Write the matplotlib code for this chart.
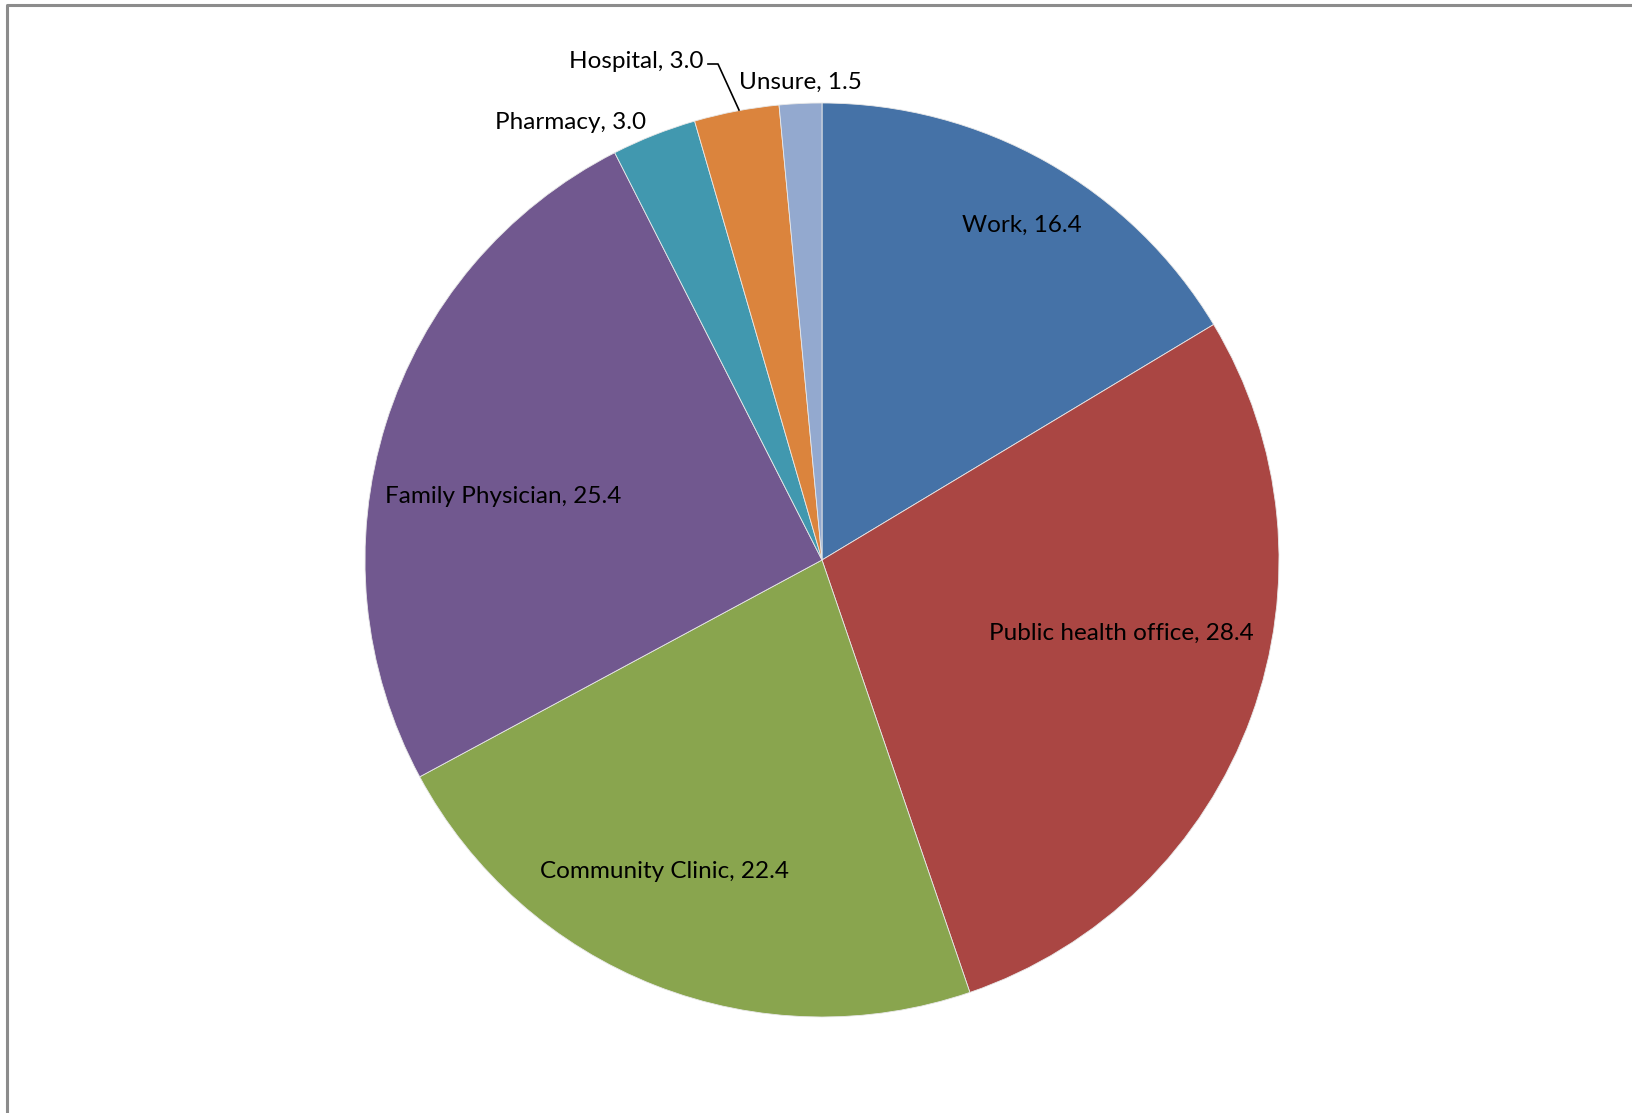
import numpy as np
import matplotlib.pyplot as plt

# Where people would go (percent of respondents)
categories = ['Work', 'Public health office', 'Community Clinic', 'Family Physician',
              'Pharmacy', 'Hospital', 'Unsure']
values = [16.4, 28.4, 22.4, 25.4, 3.0, 3.0, 1.5]
colours = ['#4572A7', '#AA4643', '#89A54E', '#71588F', '#4198AF', '#DB843D', '#93A9CF']

W, H = 1633, 1113
fig = plt.figure(figsize=(W/100, H/100), dpi=100)
ax = fig.add_axes([0, 0, 1, 1])

cx, cy, r = 822, H-560, 457
ax.pie(values, colors=colours, startangle=90, counterclock=False,
       center=(cx, cy), radius=r, frame=True,
       wedgeprops={'linewidth': 0.6, 'edgecolor': '#e8e8e8'})
ax.set_xlim(0, W)
ax.set_ylim(0, H)
ax.set_aspect('equal')
ax.axis('off')

# label anchors (x, y from top, alignment)
label_pos = [(1022, 225, 'center'), (1121, 633, 'center'), (665, 872, 'center'),
             (503, 497, 'center'), (646, 123, 'right'), (704, 61, 'right'),
             (739, 82, 'left')]
for name, v, (x, y, ha) in zip(categories, values, label_pos):
    ax.text(x, H-y, '{}, {:.1f}'.format(name, v), ha=ha, va='center',
            fontsize=17.5, family='Lato', color='black')

# leader line for the Hospital label
ax.plot([708, 718, 739], [H-64, H-64, H-110], color='black', lw=1.2)

# grey frame on the left and top
ax.plot([7, 7, W], [0, H-5, H-5], color='#8c8c8c', lw=2.2, clip_on=False)

fig.savefig('out.png', dpi=100, facecolor='white')
